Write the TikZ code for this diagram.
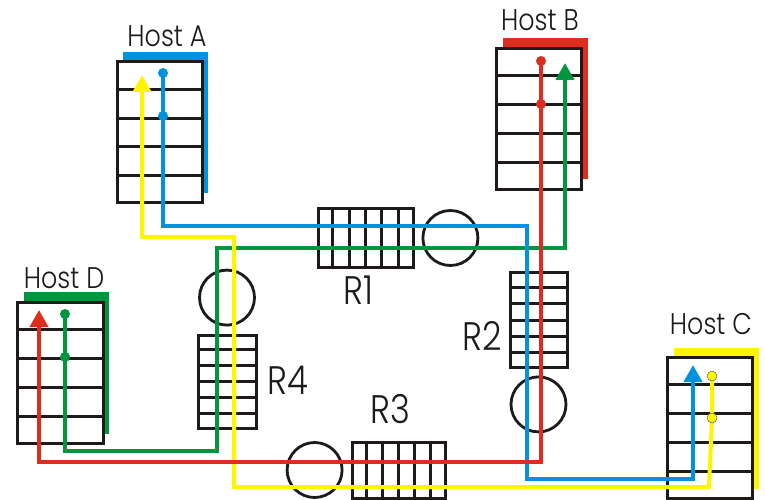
\documentclass[tikz,border=0pt]{standalone}
\usepackage{fontspec}
\IfFontExistsTF{Poppins Light}
  {\newfontfamily\lblfont{Poppins Light}[FakeStretch=0.85]}
  {\newfontfamily\lblfont{Poppins}[FakeStretch=0.85]}
\usetikzlibrary{arrows.meta,positioning,shadows,calc}
\definecolor{pktblue}{RGB}{0,146,221}
\definecolor{pktred}{RGB}{222,45,30}
\definecolor{pktgreen}{RGB}{0,150,64}
\definecolor{pktyellow}{RGB}{255,245,0}
\definecolor{ink}{RGB}{30,26,26}
\tikzset{
  hostbox/.style={draw=ink, line width=3bp, fill=white, inner sep=0pt,
                  minimum width=85bp, minimum height=141bp,
                  drop shadow={shadow xshift=6bp, shadow yshift=10bp,
                               fill=#1, opacity=1}},
  queue/.style={draw=ink, line width=3bp, fill=white, inner sep=0pt},
  buf/.style={circle, draw=ink, line width=2.8bp, inner sep=0pt,
              minimum size=55bp},
  cell/.style={draw=ink, line width=3bp},
  pkt/.style={draw=#1, line width=4bp, line join=miter},
  fwd/.style={-{Triangle[length=17bp, width=18bp]}},
  dot/.style={circle, fill=#1, inner sep=0pt, minimum size=10bp},
  hostlbl/.style={font=\lblfont\fontsize{30}{30}\selectfont, text=ink,
                  inner sep=0pt},
  rlbl/.style={font=\lblfont\fontsize{40}{40}\selectfont, text=ink,
               inner sep=0pt},
}
\begin{document}
\begin{tikzpicture}[x=1bp, y=-1bp, node distance=7bp]
  \useasboundingbox (0,0) rectangle (765,500);
  % hosts
  \node[hostbox=pktblue] (hA) at (159.5,132.5) {};
  \node[hostbox=pktred] (hB) at (539,119) {};
  \node[hostbox=pktyellow] (hC) at (710,428) {};
  \node[hostbox=pktgreen] (hD) at (60.5,373) {};
  \foreach \h in {hA,hB,hC,hD}
    \foreach \i in {1,...,4}
      \draw[cell] ($(\h.north west)!\i/5!(\h.south west)$) --
                  ($(\h.north east)!\i/5!(\h.south east)$);
  \node[hostlbl] (lA) at (167,36) {Host A};
  \node[hostlbl] (lB) at (540,20) {Host B};
  \node[hostlbl] (lC) at (711,324) {Host C};
  \node[hostlbl] (lD) at (64,278) {Host D};
  % routers: queue and buffer
  \node[queue, minimum width=95bp, minimum height=58bp] (q1) at (365.5,238) {};
  \node[buf, right=of q1] (buf1) {};
  \node[queue, minimum width=57bp, minimum height=94bp] (q2) at (538.5,320) {};
  \node[buf, below=of q2] (buf2) {};
  \node[queue, minimum width=93bp, minimum height=56bp] (q3) at (398.5,470) {};
  \node[buf, left=of q3] (buf3) {};
  \node[queue, minimum width=58bp, minimum height=93bp] (q4) at (227,381.5) {};
  \node[buf, above=of q4] (buf4) {};
  \foreach \i in {1,...,5} {
    \draw[cell] ($(q1.north west)!\i/6!(q1.north east)$) --
                ($(q1.south west)!\i/6!(q1.south east)$);
    \draw[cell] ($(q3.north west)!\i/6!(q3.north east)$) --
                ($(q3.south west)!\i/6!(q3.south east)$);
    \draw[cell] ($(q2.north west)!\i/6!(q2.south west)$) --
                ($(q2.north east)!\i/6!(q2.south east)$);
    \draw[cell] ($(q4.north west)!\i/6!(q4.south west)$) --
                ($(q4.north east)!\i/6!(q4.south east)$);
  }
  \node[rlbl] (l1) at (358,290) {R1};
  \node[rlbl] (l2) at (482,336) {R2};
  \node[rlbl] (l3) at (390,409) {R3};
  \node[rlbl] (l4) at (288,380) {R4};
  % flow end points
  \coordinate (sA1) at (163,73);  \coordinate (sA2) at (163,116);
  \coordinate (sB1) at (541,61);  \coordinate (sB2) at (541,104);
  \coordinate (sC1) at (712,376); \coordinate (sC2) at (712,418);
  \coordinate (sD1) at (65,314);  \coordinate (sD2) at (65,357);
  \coordinate (tA) at (142,75);   \coordinate (tB) at (565,63);
  \coordinate (tC) at (693,365);  \coordinate (tD) at (39,310);
  % flows
  \draw[pkt=pktgreen, fwd] (sD1) -- (65,451) -- (217,451) -- (217,248)
    -- (565,248) -- (tB);
  \draw[pkt=pktyellow, fwd] (sC1) -- (sC2) -- (709,487) -- (234,487)
    -- (234,237) -- (142,237) -- (tA);
  \draw[pkt=pktblue, fwd] (sA1) -- (163,226) -- (527,226) -- (527,479)
    -- (693,479) -- (tC);
  \draw[pkt=pktred, fwd] (sB1) -- (541,462) -- (39,462) -- (tD);
  % sender dots
  \node[dot=pktblue] (dA1) at (sA1) {};
  \node[dot=pktblue] (dA2) at (sA2) {};
  \node[dot=pktred] (dB1) at (sB1) {};
  \node[dot=pktred] (dB2) at (sB2) {};
  \node[dot=pktyellow, draw=ink!70, line width=0.5bp] (dC1) at (sC1) {};
  \node[dot=pktyellow, draw=ink!70, line width=0.5bp] (dC2) at (sC2) {};
  \node[dot=pktgreen] (dD1) at (sD1) {};
  \node[dot=pktgreen] (dD2) at (sD2) {};
\end{tikzpicture}
\end{document}
